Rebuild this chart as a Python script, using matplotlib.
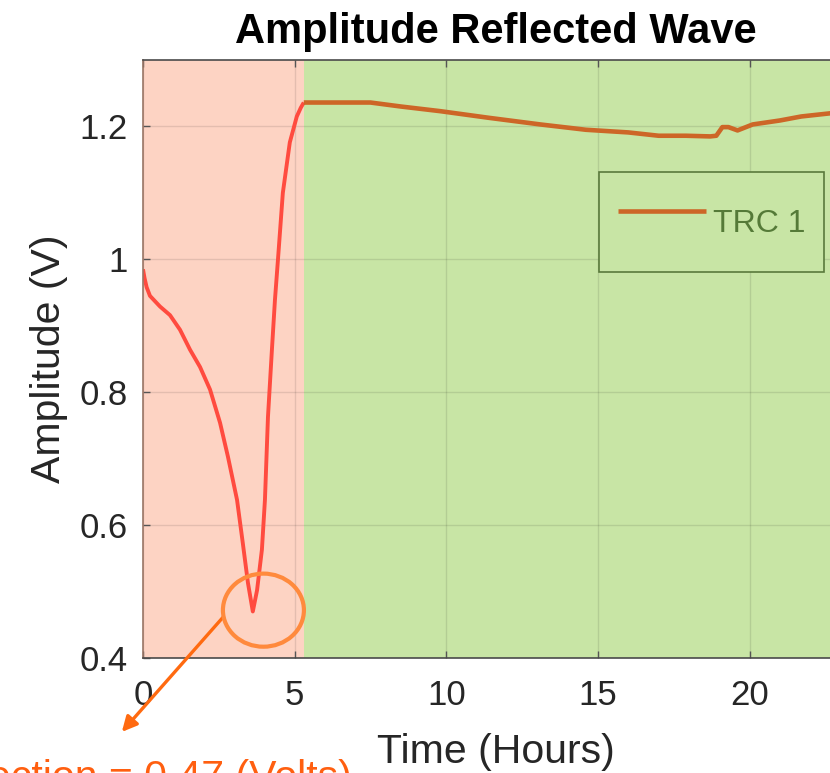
import matplotlib.pyplot as plt
import numpy as np
from matplotlib.patches import Ellipse

plt.rcParams['font.family'] = ['Liberation Sans', 'DejaVu Sans']

# values
time_h = [0, 0.05, 0.12, 0.23, 0.56, 0.89, 1.22, 1.55, 1.88, 2.21, 2.54, 2.80, 3.10, 3.29, 3.46, 3.62,
          3.76, 3.92, 4.02, 4.12, 4.25, 4.35, 4.45, 4.61, 4.84, 5.07, 5.20, 5.30,
          6.5, 7.5, 8.5, 9.8, 11.4, 13.1, 14.6, 16.0, 17.0, 17.9, 18.7, 18.9, 19.1, 19.3,
          19.6, 20.1, 21.0, 21.7, 22.7]
amp_v = [0.985, 0.972, 0.958, 0.945, 0.929, 0.916, 0.894, 0.864, 0.838, 0.804, 0.754, 0.703, 0.638,
         0.573, 0.513, 0.47, 0.502, 0.563, 0.638, 0.763, 0.864, 0.939, 1.0, 1.10, 1.176, 1.215, 1.228,
         1.236, 1.236, 1.236, 1.230, 1.223, 1.213, 1.203, 1.195, 1.191, 1.186, 1.186, 1.185, 1.186,
         1.199, 1.199, 1.194, 1.203, 1.209, 1.215, 1.220]
fault_end = 5.3
min_point = (3.62, 0.47)
x_ticks = [0, 5, 10, 15, 20]
y_ticks = [0.4, 0.6, 0.8, 1.0, 1.2]
y_tick_labels = ['0.4', '0.6', '0.8', '1', '1.2']

t = np.array(time_h)
a = np.array(amp_v)
red_part = t <= fault_end
green_part = t >= fault_end

fig = plt.figure(figsize=(8.3, 7.73), dpi=100)
ax = fig.add_axes([143 / 830, 115 / 773, 728 / 830, 598 / 773])

ax.axvspan(0, fault_end, color='#FDD3C3', lw=0)
ax.axvspan(fault_end, 24, color='#C8E5A5', lw=0)

ax.plot(t[red_part], a[red_part], color='#FF4B3F', lw=2.8, solid_capstyle='butt')
ax.plot(t[green_part], a[green_part], color='#CD6627', lw=3.3, label='TRC 1', solid_capstyle='butt')

ax.set_xticks(x_ticks)
ax.set_yticks(y_ticks)
ax.set_yticklabels(y_tick_labels)
ax.set_xlim(0, 24)
ax.set_ylim(0.4, 1.3)
ax.grid(True, color='k', alpha=0.1, lw=1)
ax.tick_params(direction='in', length=5, width=1, top=True, right=True,
               labelsize=25, labelcolor='#262626', color='#555555')
ax.tick_params(axis='x', pad=15)
ax.tick_params(axis='y', pad=11)
for s in ax.spines.values():
    s.set_color('#4a4a4a')
    s.set_linewidth(1.2)
ax.spines['left'].set_color('#9a7565')

ax.set_xlabel('Time (Hours)', fontsize=29.5, color='#262626', labelpad=14)
ax.xaxis.set_label_coords(0.485, -0.125)
ax.set_ylabel('Amplitude (V)', fontsize=29.5, color='#262626', labelpad=8)
ax.set_title('Amplitude Reflected Wave', fontsize=30, fontweight='bold', x=0.485, pad=12)

leg = ax.legend(loc='upper left', bbox_to_anchor=(0.626, 0.8127), borderaxespad=0,
                fontsize=23, fancybox=False, framealpha=1, facecolor='#C8E5A5',
                edgecolor='#5a7a3c', borderpad=0.6, handleheight=2.6, handlelength=2.75,
                handletextpad=0.22)
leg.get_frame().set_linewidth(1.2)
for txt in leg.get_texts():
    txt.set_color('#557a38')

# annotation around the minimum
ax.add_patch(Ellipse((min_point[0] + 0.35, min_point[1] + 0.002), 2.67, 0.11, fill=False,
                     edgecolor='#FF8A3D', lw=3, clip_on=False, zorder=5))
ax.annotate('', xy=(120 / 830, 1 - 734 / 773), xycoords='figure fraction',
            xytext=(225 / 830, 1 - 615 / 773), textcoords='figure fraction',
            arrowprops=dict(arrowstyle='-|>,head_length=0.9,head_width=0.45', color='#FF6A10', lw=2.4),
            annotation_clip=False)
fig.text(352 / 830, 1 - 759 / 773, 'Reflection = 0.47 (Volts)', ha='right', va='top',
         fontsize=29.5, color='#FF5F10')

fig.savefig('out.png', dpi=100)
